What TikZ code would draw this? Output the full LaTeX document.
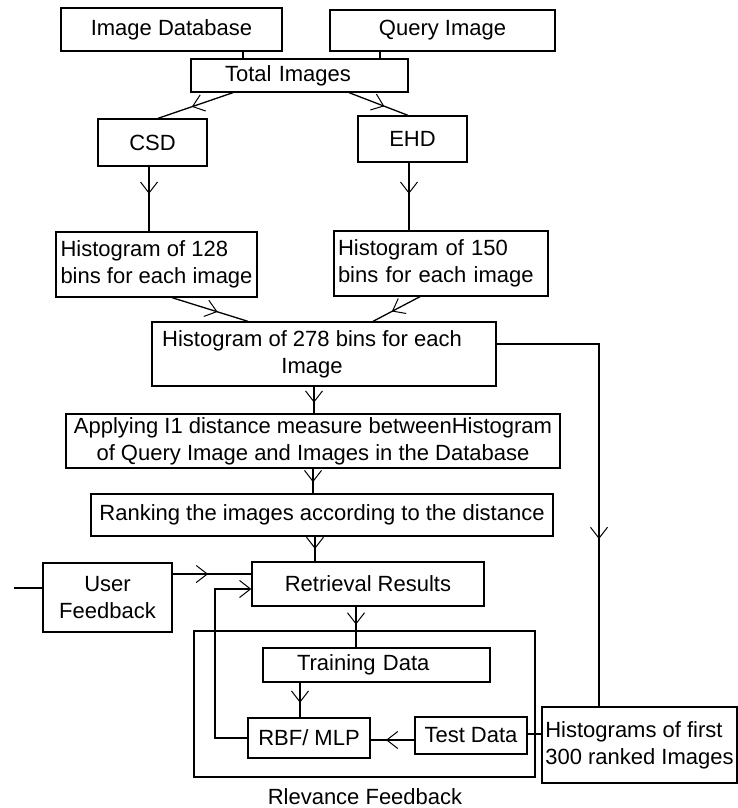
\documentclass[tikz,border=0pt]{standalone}
\usepackage{fontspec}
\setmainfont{Liberation Sans}
\usetikzlibrary{arrows.meta,decorations.markings}
\begin{document}
\begin{tikzpicture}[x=1pt,y=-1pt,
  every node/.style={font=\fontsize{22}{27}\selectfont},
  box/.style={draw, line width=1.3pt, inner sep=0pt},
  txt/.style={inner sep=0pt},
  conn/.style={line width=1.3pt},
  midarr/.style={conn, postaction={decorate}, decoration={markings,
     mark=at position #1 with {\arrow{Straight Barb[length=11pt,width=17pt,line width=1pt]}}}},
  endarr/.style={conn, -{Straight Barb[length=11pt,width=17pt,line width=1pt]}}
]
\useasboundingbox (0,0) rectangle (738,808);

% boxes
\node[box, minimum width=221, minimum height=43] (imgdb) at (171.5,29.5) {Image Database};
\node[box, minimum width=225, minimum height=41] (query) at (442.5,30.5) {Query Image};
\node[box, minimum width=217, minimum height=33, text width=149, align=left] (total) at (299.5,75.5) {Total Images};
\node[box, minimum width=109, minimum height=47] (csd) at (152.5,142.5) {CSD};
\node[box, minimum width=109, minimum height=46] (ehd) at (412.5,139) {EHD};
\node[box, minimum width=201, minimum height=65, align=left] (h128) at (156.5,264.5) {Histogram of 128\\bins for each image};
\node[box, minimum width=214, minimum height=65, text width=206, align=left] (h150) at (441,263.5) {Histogram of 150\\bins for each image};
\node[box, minimum width=344, minimum height=64] (h278) at (324,354) {};
\node[txt, align=center] (h278t) at (312,354) {Histogram of 278 bins for each\\Image};
\node[box, minimum width=494, minimum height=54, align=center] (apply) at (313,441) {Applying I1 distance measure betweenHistogram\\of Query Image and Images in the Database};
\node[box, minimum width=462, minimum height=42] (rank) at (322,515) {Ranking the images according to the distance};
\node[box, minimum width=232, minimum height=44] (retr) at (368,584) {Retrieval Results};
\node[box, minimum width=129, minimum height=69, align=center] (user) at (107.5,597.5) {User\\Feedback};
\node[box, minimum width=341, minimum height=146] (rf) at (364.5,704) {};
\node[box, minimum width=227, minimum height=34, text width=159, align=left] (train) at (376.5,665) {Training Data};
\node[box, minimum width=122, minimum height=40] (rbf) at (309,738) {RBF/ MLP};
\node[box, minimum width=112, minimum height=37] (test) at (471,735.5) {Test Data};
\node[box, minimum width=195, minimum height=76, align=left] (first) at (639.5,745) {Histograms of first\\300 ranked Images};
\node[txt] (rftext) at (365,797) {Rlevance Feedback};

% coordinates for free ends / corners
\coordinate (corner) at (599,344);
\coordinate (ufin) at (14,588);
\coordinate (fbk) at (215,589);

% connectors
\draw[conn] (imgdb.south -| 243,0) -- (total.north -| 243,0);
\draw[conn] (query.south -| 380,0) -- (total.north -| 380,0);
\draw[midarr=0.55] (total.south -| 233,0) -- (csd.north -| 158,0);
\draw[midarr=0.6] (total.south -| 349,0) -- (ehd.north -| 408,0);
\draw[midarr=0.42] (csd.south -| 149,0) -- (h128.north -| 149,0);
\draw[midarr=0.46] (ehd.south -| 409,0) -- (h150.north -| 409,0);
\draw[midarr=0.6] (h128.south -| 172,0) -- (h278.north -| 248,0);
\draw[midarr=0.6] (h150.south -| 420,0) -- (h278.north -| 373,0);
\draw[midarr=0.6] (h278.south -| 314,0) -- (apply.north -| 314,0);
\draw[midarr=0.55] (apply.south -| 313,0) -- (rank.north -| 313,0);
\draw[midarr=0.5] (rank.south -| 315,0) -- (retr.north -| 315,0);
\draw[midarr=0.64] (h278.east |- corner) -- (corner) -- (first.north -| corner);
\draw[conn] (ufin) -- (user.west |- ufin);
\draw[midarr=0.45] (user.east |- 0,574) -- (retr.west |- 0,574);
\draw[endarr] (rbf.west) -- (rbf.west -| fbk) -- (fbk) -- (retr.west |- fbk);
\draw[midarr=0.44] (retr.south -| 356,0) -- (train.north -| 356,0);
\draw[midarr=0.58] (train.south -| 300,0) -- (rbf.north -| 300,0);
\draw[midarr=0.65] (test.west |- 0,740) -- (rbf.east |- 0,740);
\draw[conn] (test.east |- 0,734) -- (first.west |- 0,734);
\end{tikzpicture}
\end{document}
